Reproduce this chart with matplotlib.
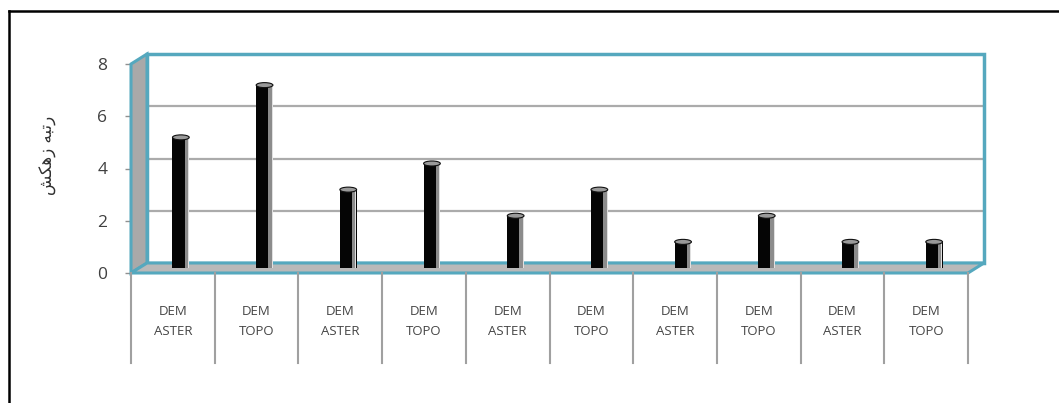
import matplotlib
matplotlib.use("Agg")
import matplotlib.pyplot as plt
from matplotlib.patches import Polygon, Rectangle, Ellipse
from matplotlib.lines import Line2D
from matplotlib.transforms import offset_copy, IdentityTransform
import numpy as np

categories = ["DEM\nASTER", "DEM\nTOPO"] * 5
values = [5, 7, 3, 4, 2, 3, 1, 2, 1, 1]
yticks = [0, 2, 4, 6, 8]
ylabel = "\uFEB6\uFB91\uFEEB\uFEAF \uFEEA\uFE92\uFE97\uFEAD"  # رتبه زهکش (pre-shaped)

W, H, DPI = 1059, 403, 100
fig = plt.figure(figsize=(W / DPI, H / DPI), dpi=DPI)
fig.patch.set_facecolor("white")

# axes = front plane of the 3-D box
left_px, right_px, top_px, bot_px = 131, 968, 64, 273
ax = fig.add_axes([left_px / W, (H - bot_px) / H, (right_px - left_px) / W, (bot_px - top_px) / H])
n = len(categories)
ax.set_xlim(-0.5, n - 0.5)
ax.set_ylim(0, 8)
ax.patch.set_visible(False)
for s in ax.spines.values():
    s.set_visible(False)

teal = "#55A8BE"
grid_c = "#ABABAB"
DX, DY = 16, 10
back = offset_copy(ax.transData, fig=fig, x=DX, y=DY, units="dots")
mid = offset_copy(ax.transData, fig=fig, x=DX / 2, y=DY / 2, units="dots")
x0, x1 = -0.5, n - 0.5
ymax = yticks[-1]
idt = IdentityTransform()

# back wall
ax.add_patch(Rectangle((x0, 0), x1 - x0, ymax, transform=back, facecolor="white",
                       edgecolor="none", clip_on=False, zorder=1))
for yv in yticks[1:-1]:
    ax.add_line(Line2D([x0, x1], [yv, yv], transform=back, color=grid_c, lw=1.6,
                       clip_on=False, zorder=2))
ax.add_patch(Rectangle((x0, 0), x1 - x0, ymax, transform=back, facecolor="none",
                       edgecolor=teal, lw=2.5, clip_on=False, zorder=3))

def px(tr, x, y):
    return tr.transform((x, y))

# left wall and floor
lw_poly = [px(ax.transData, x0, 0), px(ax.transData, x0, ymax),
           px(back, x0, ymax), px(back, x0, 0)]
ax.add_patch(Polygon(lw_poly, closed=True, transform=idt, facecolor="#A9A9A9",
                     edgecolor=teal, lw=2.2, clip_on=False, zorder=4))
fl_poly = [px(ax.transData, x0, 0), px(ax.transData, x1, 0),
           px(back, x1, 0), px(back, x0, 0)]
ax.add_patch(Polygon(fl_poly, closed=True, transform=idt, facecolor="#B9B9B9",
                     edgecolor=teal, lw=2.2, clip_on=False, zorder=4))

# bars (cylinders)
xs = np.arange(n)
bw = 0.2
ax.bar(xs, values, width=bw, color="#050505", transform=mid, zorder=6, clip_on=False)
ax.bar(xs + bw * 0.33, values, width=bw * 0.22, color="#8C8C8C", transform=mid,
       zorder=7, clip_on=False)
ax.bar(xs + bw * 0.46, values, width=bw * 0.06, color="#E0E0E0", transform=mid,
       zorder=7, clip_on=False)
cap_h = 5 / ((bot_px - top_px) / ymax)
for xv, v in zip(xs, values):
    ax.add_patch(Ellipse((xv, v), bw, cap_h, transform=mid, facecolor="#9A9A9A",
                         edgecolor="#111111", lw=0.8, zorder=8, clip_on=False))

# y axis ticks
ax.set_yticks(yticks)
ax.set_yticklabels([str(t) for t in yticks], fontsize=12.5, color="#404040", family="Open Sans")
ax.tick_params(axis="y", length=4, width=1, color="#909090", pad=13)

# category table
ax.set_xticks(xs)
ax.set_xticklabels(categories, fontsize=9.5, color="#454545", family="Open Sans",
                   linespacing=1.75)
ax.tick_params(axis="x", length=0, pad=23)
xt = ax.get_xaxis_transform()
div_h = 90 / (bot_px - top_px)
for xv in np.arange(n + 1) - 0.5:
    ax.add_line(Line2D([xv, xv], [0, -div_h], transform=xt, color="#A0A0A0", lw=1.5,
                       clip_on=False, zorder=5))

# y label
fig.text(48 / W, 1 - 155 / H, ylabel, rotation=90, ha="center", va="center",
         fontsize=12, color="#303030", family="DejaVu Sans")

# outer frame (top and left edges)
fig.add_artist(Line2D([9 / W, 1.0], [1 - 11 / H, 1 - 11 / H], transform=fig.transFigure,
                      color="black", lw=1.8))
fig.add_artist(Line2D([9 / W, 9 / W], [1 - 11 / H, 0.0], transform=fig.transFigure,
                      color="black", lw=1.8))

fig.savefig("out.png", dpi=DPI)
